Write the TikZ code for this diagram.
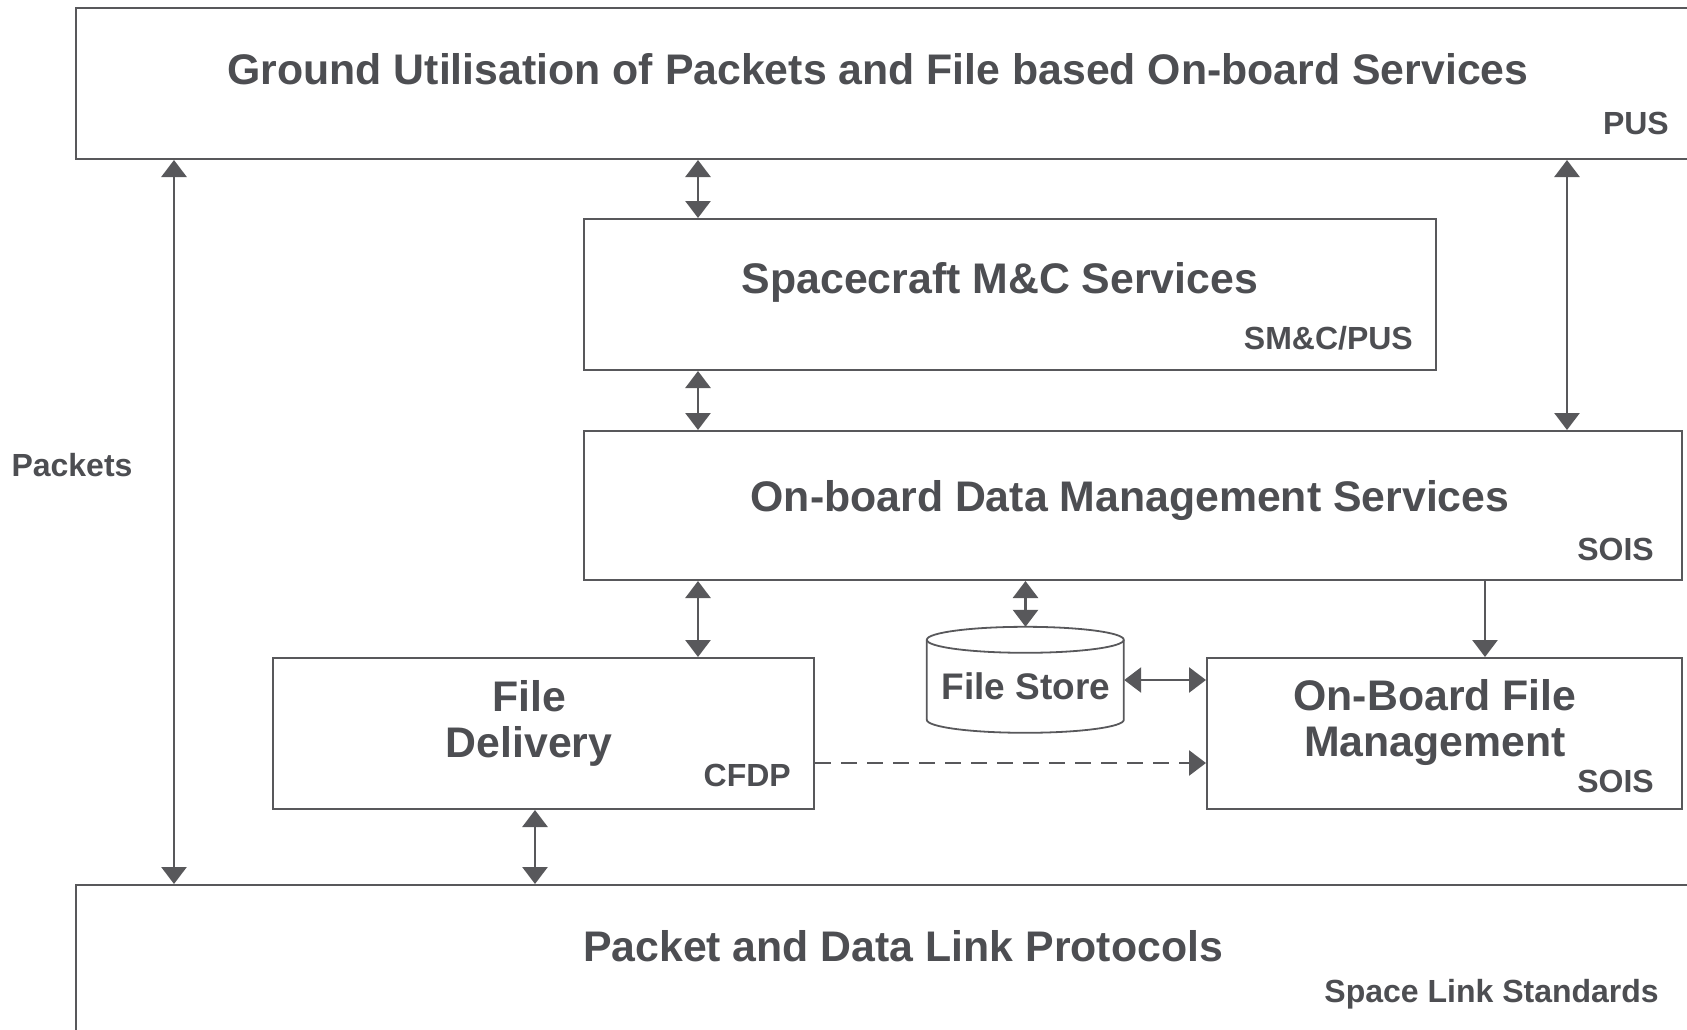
\documentclass[tikz,border=0pt]{standalone}
\usepackage{fontspec}
\setmainfont{Liberation Sans}
\usetikzlibrary{arrows.meta}
\definecolor{ln}{HTML}{58585B}
\definecolor{tx}{HTML}{4D4E52}
\tikzset{
  box/.style={draw=ln, line width=2pt, rectangle, inner sep=0pt, anchor=north west},
  big/.style={text=tx, font=\bfseries\fontsize{42.8}{46}\selectfont, align=center, inner sep=0pt},
  small/.style={text=tx, font=\bfseries\fontsize{32}{35}\selectfont, inner sep=0pt},
  conn/.style={draw=ln, line width=2.8pt, -{Triangle[width=25pt,length=17pt]}},
  dconn/.style={draw=ln, line width=2.8pt, {Triangle[width=25pt,length=17pt]}-{Triangle[width=25pt,length=17pt]}},
}
\begin{document}
\begin{tikzpicture}[x=1pt,y=-1pt]
\useasboundingbox (0,0) rectangle (1687,1030);
\fill[white] (0,0) rectangle (1687,1030);
\clip (0,0) rectangle (1687,1030);
% boxes
\node[box, minimum width=1700pt, minimum height=150.5pt] (gus) at (75,7.5) {};
\node[box, minimum width=852pt, minimum height=151pt] (smc) at (583,218) {};
\node[box, minimum width=1098pt, minimum height=149pt] (obdm) at (583,430) {};
\node[box, minimum width=541pt, minimum height=151pt] (fd) at (272,657) {};
\node[box, minimum width=475pt, minimum height=151pt] (obf) at (1206,657) {};
\node[box, minimum width=1700pt, minimum height=200pt] (pdl) at (75,884) {};
% texts
\node[big] (gust) at (878,69) {Ground Utilisation of Packets and File based On-board Services};
\node[small, anchor=east] (gusl) at (1669,123) {PUS};
\node[big] (smct) at (1000,282) {Spacecraft M\&C Services};
\node[small, anchor=east] (smcl) at (1413,338) {SM\&C/PUS};
\node[big] (obdmt) at (1130,501) {On-board Data Management Services};
\node[small, anchor=east] (obdml) at (1654,549) {SOIS};
\node[big] (fdt) at (529,723) {File\\Delivery};
\node[small, anchor=east] (fdl) at (791,775) {CFDP};
\node[big] (obft) at (1435,723) {On-Board File\\Management};
\node[small, anchor=east] (obfl) at (1654,781) {SOIS};
\node[big] (pdlt) at (903,946) {Packet and Data Link Protocols};
\node[small, anchor=east] (pdll) at (1659,994) {Space Link Standards};
\node[small] (pkt) at (72,465) {Packets};
% file store cylinder
\node[minimum width=197pt, minimum height=106pt, inner sep=0pt] (fs) at (1025.5,680) {};
\draw[ln, line width=1.8pt, fill=white] (fs.north west) ++(0,13) arc[start angle=180, end angle=360, x radius=98.5, y radius=13] -- ++(0,80) arc[start angle=0, end angle=180, x radius=98.5, y radius=13] -- cycle;
\draw[ln, line width=1.8pt] (fs.north west) ++(0,13) arc[start angle=180, end angle=0, x radius=98.5, y radius=13];
\node[text=tx, font=\bfseries\fontsize{37}{40}\selectfont, inner sep=0pt] (fst) at (1026,686) {File Store};
% connectors
\coordinate (ax) at (698,0);
\coordinate (lx) at (174,0);
\coordinate (rx) at (1567,0);
\coordinate (ox) at (1485,0);
\coordinate (px) at (535,0);
\coordinate (dy) at (0,763);
\draw[dconn] (lx |- gus.south) -- (lx |- pdl.north);
\draw[dconn] (ax |- gus.south) -- (ax |- smc.north);
\draw[dconn] (ax |- smc.south) -- (ax |- obdm.north);
\draw[dconn] (ax |- obdm.south) -- (ax |- fd.north);
\draw[dconn] (rx |- gus.south) -- (rx |- obdm.north);
\draw[conn] (ox |- obdm.south) -- (ox |- obf.north);
\draw[dconn] (fs.north |- obdm.south) -- (fs.north);
\draw[dconn] (fs.east) -- (fs.east -| obf.west);
\draw[conn, dash pattern=on 16pt off 10pt] (fd.east |- dy) -- (obf.west |- dy);
\draw[dconn] (px |- fd.south) -- (px |- pdl.north);
\end{tikzpicture}
\end{document}
